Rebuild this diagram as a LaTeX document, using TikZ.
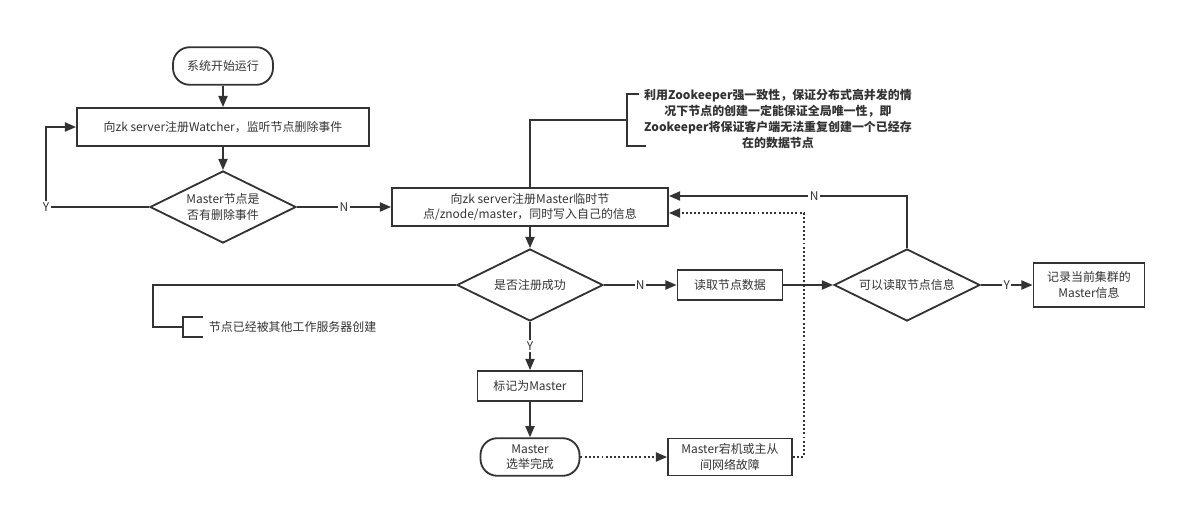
\documentclass[tikz,border=0pt]{standalone}
\usepackage{fontspec}
\setmainfont{Noto Sans CJK SC}
\usetikzlibrary{shapes.geometric, arrows.meta, positioning, calc}
\definecolor{tDark}{RGB}{51, 51, 51}

\begin{document}
\begin{tikzpicture}[
    font=\fontsize{8.5}{11}\selectfont,
    >={Triangle[length=8pt, width=6.5pt]},
    block/.style={
        draw=tDark,
        line width=1.3pt,
        text=tDark,
        align=center,
        inner sep=2pt,
        minimum width=#1
    },
    term/.style={block=#1, rounded corners=0.42cm, minimum height=0.94cm},
    decision/.style={
        draw=tDark,
        line width=1.3pt,
        text=tDark,
        align=center,
        diamond,
        aspect=2,
        inner sep=0pt,
        minimum width=3.65cm,
        minimum height=1.8cm
    },
    line/.style={line width=1.3pt, draw=tDark},
    arrow/.style={->, line, line width=1.3pt},
    dotarrow/.style={arrow, dash pattern=on 1.4pt off 1.6pt},
    yn/.style={fill=white, inner sep=1pt, text=tDark}
]
\useasboundingbox (0, 0) rectangle (29.425, -12.7);

% Watcher loop
\node[term=2.5cm] (start) at (5.575, -1.65) {系统开始运行};
\node[block=7.3cm, minimum height=0.95cm] (watch) at (5.575, -3.175) {向zk server注册Watcher，监听节点删除事件};
\node[decision] (dia1) at (5.575, -5.175) {Master节点是\\否有删除事件};

\draw[arrow] (start) -- (watch);
\draw[arrow] (watch) -- (dia1);
\draw[arrow] (dia1.west) -| node[yn, pos=0.5] {Y} ([xshift=-0.75cm]watch.west) -- (watch.west);

% Register master node
\node[block=6.9cm, minimum height=0.95cm] (reg) at (13.25, -5.175) {向zk server注册Master临时节\\点/znode/master，同时写入自己的信息};
\draw[arrow] (dia1) -- node[yn] {N} (reg);

% Note on consistency
\node[text=tDark, align=center, font=\bfseries\fontsize{8.5}{11.4}\selectfont] (note) at (19.45, -2.975) {利用Zookeeper强一致性，保证分布式高并发的情\\况下节点的创建一定能保证全局唯一性，即\\Zookeeper将保证客户端无法重复创建一个已经存\\在的数据节点};
\coordinate (brk) at (15.675, -3.0);
\draw[line] (15.975, -2.35) -- (15.675, -2.35) -- (15.675, -3.65) -- (16.15, -3.65);
\draw[line] (reg.north) |- (brk);

% Election result
\node[decision] (dia2) at (13.25, -7.125) {是否注册成功};
\node[block=2.625cm, minimum height=0.75cm] (read) at (18.25, -7.125) {读取节点数据};
\node[decision] (dia3) at (22.675, -7.125) {可以读取节点信息};
\node[block=2.775cm, minimum height=1.1cm] (rec) at (27.225, -7.125) {记录当前集群的\\Master信息};

\draw[arrow] (reg) -- (dia2);
\draw[arrow] (dia2) -- node[yn] {N} (read);
\draw[arrow] (read) -- (dia3);
\draw[arrow] (dia3) -- node[yn] {Y} (rec);
\draw[arrow] (dia3.north) |- node[yn, pos=0.695] {N} ([yshift=0.275cm]reg.east);

% Already created
\coordinate (brk2) at (4.575, -8.175);
\node[anchor=west, text=tDark] (taken) at (5.1, -8.175) {节点已经被其他工作服务器创建};
\draw[line] (5.075, -7.925) -- (4.575, -7.925) -- (4.575, -8.425) -- (5.075, -8.425);
\draw[line] (dia2.west) -| ($(brk2)+(-0.75, 0)$) -- (brk2);

% Master elected
\node[block=2.625cm, minimum height=0.75cm] (mark) at (13.25, -9.65) {标记为Master};
\node[term=2.475cm] (done) at (13.25, -11.425) {Master\\选举完成};
\node[block=3.1cm, minimum height=0.925cm] (fail) at (18.25, -11.425) {Master宕机或主从\\间网络故障};

\draw[arrow] (dia2) -- node[yn] {Y} (mark);
\draw[arrow] (mark) -- (done);
\draw[dotarrow] (done) -- (fail);
\draw[dotarrow] (fail.east) -- ++(0.275, 0) |- ([yshift=-0.15cm]reg.east);

\end{tikzpicture}
\end{document}
